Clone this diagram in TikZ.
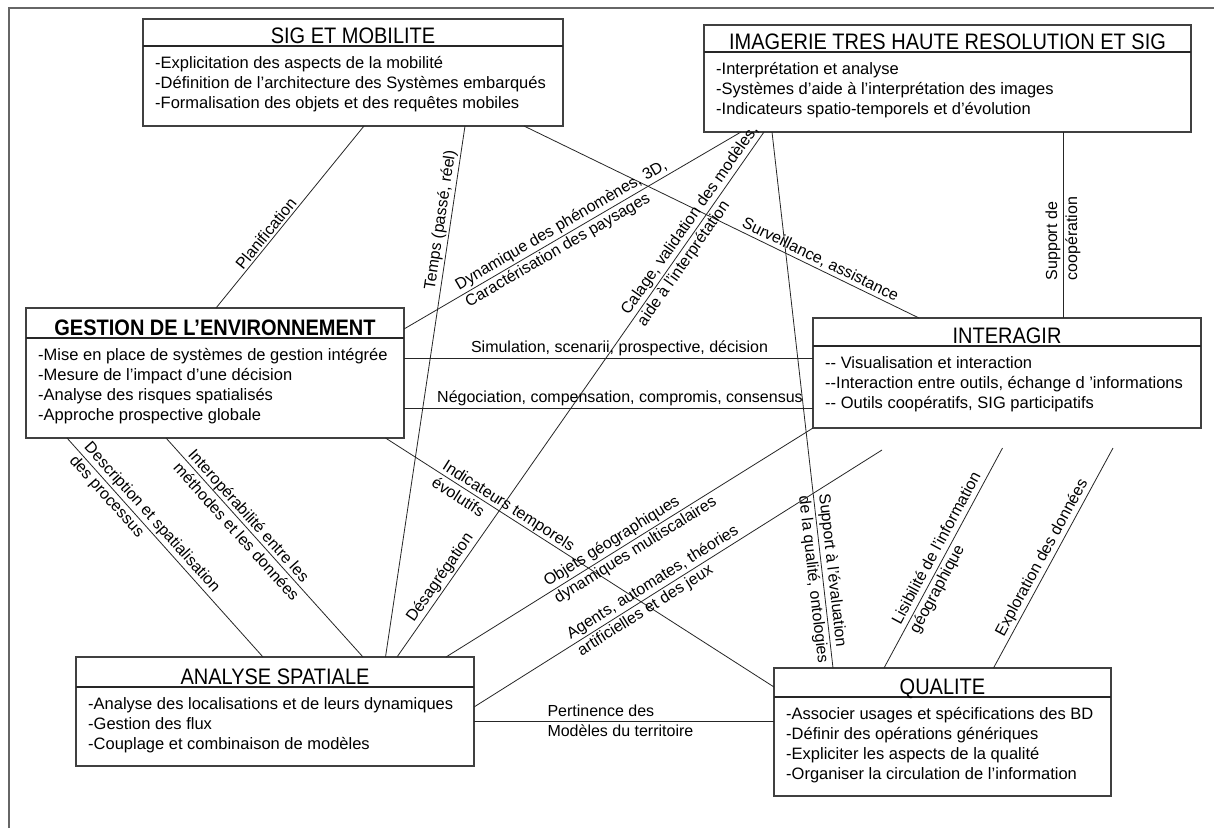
\documentclass[tikz,border=0pt]{standalone}
\usepackage{fontspec}
\usepackage{graphicx}
\setmainfont{Liberation Sans}
\usetikzlibrary{calc}

% one unit = one pixel, y grows downwards
\tikzset{
  panel/.style={draw=black!75, line width=1.3pt, fill=white, inner sep=0pt, outer sep=0pt},
  rulebar/.style={draw=black!85, line width=2pt},
  ptitle/.style={font=\fontsize{20}{24}\selectfont, inner sep=0pt, anchor=base},
  pbody/.style={font=\fontsize{16.5}{20}\selectfont, align=left, inner sep=0pt, anchor=north west},
  link/.style={draw=black!85, line width=0.8pt},
  lab/.style={font=\fontsize{16}{20}\selectfont, inner sep=2pt, sloped},
  labl/.style={lab, align=left, anchor=west},
  frameline/.style={draw=black!60, line width=2pt},
}

% #1 name, #2 left, #3 top, #4 right, #5 bottom, #6 rule height, #7 title, #8 items
\newcommand\mkpanel[8]{%
  \node[panel, minimum width={#4-#2}, minimum height={#5-#3}, anchor=north west] (#1) at (#2,#3) {};
  \draw[rulebar] ($(#1.north west)+(0,{#6-#3})$) -- ($(#1.north east)+(0,{#6-#3})$);
  \node[ptitle] (#1-title) at ($(#1.north)+(0,{#6-#3-3})$) {\scalebox{1}[1.12]{#7}};
  \node[pbody] (#1-body) at ($(#1.north west)+(12,{#6-#3+8})$) {\strut #8};
}

\begin{document}
\begin{tikzpicture}[x=1pt, y=-1pt]
\useasboundingbox (0,0) rectangle (1214,828);
\fill[white] (0,0) rectangle (1214,828);

% page frame
\draw[frameline] (9,828) -- (9,8) -- (1214,8);

% panels
\mkpanel{sig}{143}{19}{563}{126}{46}{SIG ET MOBILITE}
  {-Explicitation des aspects de la mobilité\\
   -Définition de l'architecture des Systèmes embarqués\\
   -Formalisation des objets et des requêtes mobiles}
\mkpanel{img}{704}{25}{1191}{132}{52}{IMAGERIE TRES HAUTE RESOLUTION ET SIG}
  {-Interprétation et analyse\\
   -Systèmes d'aide à l'interprétation des images\\
   -Indicateurs spatio-temporels et d'évolution}
\mkpanel{gest}{26}{308}{404}{438}{338}{\bfseries GESTION DE L’ENVIRONNEMENT}
  {-Mise en place de systèmes de gestion intégrée\\
   -Mesure de l'impact d'une décision\\
   -Analyse des risques spatialisés\\
   -Approche prospective globale}
\mkpanel{inter}{813}{318}{1201}{428}{346}{INTERAGIR}
  {-{}- Visualisation et interaction\\
   -{}-Interaction entre outils, échange d 'informations\\
   -{}- Outils coopératifs, SIG participatifs}
\mkpanel{ana}{76}{657}{474}{766}{687}{ANALYSE SPATIALE}
  {-Analyse des localisations et de leurs dynamiques\\
   -Gestion des flux\\
   -Couplage et combinaison de modèles}
\mkpanel{qual}{774}{668}{1111}{796}{697}{QUALITE}
  {-Associer usages et spécifications des BD\\
   -Définir des opérations génériques\\
   -Expliciter les aspects de la qualité\\
   -Organiser la circulation de l'information}

% loose ends of three links
\coordinate (endA) at (882,450);
\coordinate (endB) at (1002.5,448);
\coordinate (endC) at (1113,448);

% links
\draw[link] ($(sig.south west)+(221,0)$) -- node[lab, above, pos=0.62] {Planification}
  ($(gest.north west)+(190,0)$);
\draw[link] ($(sig.south west)+(322,0)$) -- node[lab, above, pos=0.18] {Temps (passé, réel)}
  ($(ana.north west)+(309.5,0)$);
\draw[link] ($(sig.south west)+(381,0)$) -- node[lab, above, pos=0.74] {Surveillance, assistance}
  ($(inter.north west)+(106,0)$);

\draw[link] ($(gest.north east)+(0,21)$) -- node[labl, pos=0.166]
  {Dynamique des phénomènes, 3D,\\Caractérisation des paysages}
  ($(img.south west)+(37,0)$);
\draw[link] ($(ana.north west)+(321,0)$)
  -- node[lab, above, pos=0.14] {Désagrégation}
     node[labl, pos=0.64] {Calage, validation des modèles,\\aide à l'interprétation}
  ($(img.south west)+(60,0)$);
\draw[link] ($(img.south west)+(68,0)$) -- node[labl, pos=0.673]
  {Support à l'évaluation\\de la qualité, ontologies}
  ($(qual.north west)+(59,0)$);
\draw[link] ($(inter.north west)+(250,0)$) -- node[labl, pos=0.19]
  {Support de\\coopération}
  ($(img.south west)+(359,0)$);

\draw[link] ($(gest.north east)+(0,50)$) -- node[lab, above, pos=0.527]
  {Simulation, scenarii, prospective, décision}
  ($(inter.north west)+(0,40)$);
\draw[link] ($(gest.north east)+(0,100)$) -- node[lab, above, pos=0.528]
  {Négociation, compensation, compromis, consensus}
  ($(inter.north west)+(0,90)$);

\draw[link] ($(gest.south west)+(41,0)$) -- node[labl, pos=0.055]
  {Description et spatialisation\\des processus}
  ($(ana.north west)+(187,0)$);
\draw[link] ($(gest.south west)+(140,0)$) -- node[labl, pos=0.085]
  {Interopérabilité entre les\\méthodes et les données}
  ($(ana.north west)+(287,0)$);
\draw[link] ($(gest.south west)+(359.5,0)$) -- node[labl, pos=0.133]
  {Indicateurs temporels\\évolutifs}
  ($(qual.north west)+(0,19)$);

\draw[link] ($(ana.north west)+(370,0)$) -- node[labl, pos=0.28]
  {Objets géographiques\\dynamiques multiscalaires}
  (inter.south west);
\draw[link] ($(ana.north east)+(0,50)$) -- node[labl, pos=0.24]
  {Agents, automates, théories\\artificielles et des jeux}
  (endA);
\draw[link] ($(ana.north east)+(0,64)$) -- node[labl, pos=0.237]
  {Pertinence des\\Modèles du territoire}
  ($(qual.north west)+(0,53)$);

\draw[link] ($(qual.north west)+(110,0)$) -- node[labl, pos=0.173]
  {Lisibilité de l'information\\géographique}
  (endB);
\draw[link] ($(qual.north west)+(219.5,0)$) -- node[lab, above, pos=0.48]
  {Exploration des données}
  (endC);
\end{tikzpicture}
\end{document}
